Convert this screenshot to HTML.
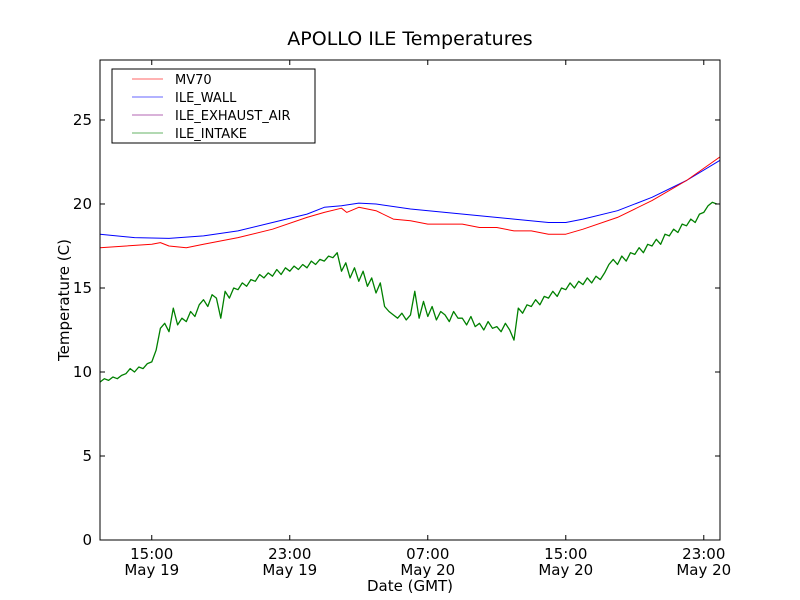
<!DOCTYPE html>
<html><head><meta charset="utf-8">
<style>
body{margin:0;background:#fff;}
svg{display:block;font-family:"DejaVu Sans","Liberation Sans",sans-serif;}
</style></head>
<body>
<svg id="chart" width="800" height="600" viewBox="0 0 800 600">
<rect width="800" height="600" fill="#fff"/>
<text x="410" y="45" font-size="19" text-anchor="middle">APOLLO ILE Temperatures</text>
<g id="plot"></g>
<text x="410" y="591" font-size="15" text-anchor="middle">Date (GMT)</text>
<text x="69" y="300" font-size="15" text-anchor="middle" transform="rotate(-90 69 300)">Temperature (C)</text>
<g>
<rect x="112" y="69" width="203" height="74" fill="#fff" stroke="#000" stroke-width="1"/>
<line x1="132" y1="79" x2="163" y2="79" stroke="#ff0000" stroke-opacity="0.6"/>
<text x="175" y="84" font-size="13">MV70</text>
<line x1="132" y1="97" x2="163" y2="97" stroke="#0000ff" stroke-opacity="0.6"/>
<text x="175" y="102" font-size="13">ILE_WALL</text>
<line x1="132" y1="115" x2="163" y2="115" stroke="#800080" stroke-opacity="0.6"/>
<text x="175" y="120" font-size="13">ILE_EXHAUST_AIR</text>
<line x1="132" y1="133" x2="163" y2="133" stroke="#008000" stroke-opacity="0.6"/>
<text x="175" y="138" font-size="13">ILE_INTAKE</text>
</g>
</svg>
<script>
// hours since 12:00 May 19
const mvT = [0,3,3.5,4,5,6,8,10,12,13,14,14.3,15,16,17,18,19,20,21,22,23,24,25,26,27,28,30,32,34,35.94];
const mvV = [17.4,17.6,17.7,17.5,17.4,17.6,18.0,18.5,19.2,19.5,19.75,19.5,19.8,19.6,19.1,19.0,18.8,18.8,18.8,18.6,18.6,18.4,18.4,18.2,18.2,18.5,19.2,20.2,21.4,22.8];
const wallT = [0,2,4,6,8,10,12,13,14,15,16,18,20,22,24,26,27,28,30,32,34,35.94];
const wallV = [18.2,18.0,17.95,18.1,18.4,18.9,19.4,19.8,19.9,20.05,20.0,19.7,19.5,19.3,19.1,18.9,18.9,19.1,19.6,20.4,21.4,22.6];
// ILE_INTAKE sampled every 0.25 h
const intakeStep = 0.25;
const intakeV = [
9.4,9.6,9.5,9.7, 9.6,9.8,9.9,10.2, 10.0,10.3,10.2,10.5, 10.6,11.3,12.6,12.9,
12.4,13.8,12.8,13.2, 13.0,13.6,13.3,14.0, 14.3,13.9,14.6,14.4, 13.2,14.8,14.4,15.0,
14.9,15.3,15.1,15.5, 15.4,15.8,15.6,15.9, 15.7,16.1,15.8,16.2, 16.0,16.3,16.1,16.4,
16.2,16.6,16.4,16.7, 16.6,16.9,16.8,17.1, 16.0,16.5,15.6,16.2, 15.4,16.0,15.1,15.6,
14.7,15.3,13.9,13.6, 13.4,13.2,13.5,13.1, 13.4,14.8,13.2,14.2, 13.3,13.9,13.1,13.6,
13.4,13.0,13.6,13.2, 13.2,12.8,13.3,12.7, 12.9,12.5,13.0,12.6, 12.7,12.4,12.9,12.5,
11.9,13.8,13.5,14.0, 13.9,14.3,14.0,14.5, 14.4,14.8,14.5,15.0, 14.9,15.3,15.0,15.4,
15.2,15.6,15.3,15.7, 15.5,15.9,16.4,16.7, 16.4,16.9,16.6,17.1, 17.0,17.4,17.1,17.6,
17.5,17.9,17.6,18.2, 18.1,18.5,18.3,18.8, 18.7,19.1,18.9,19.4, 19.5,19.9,20.1,20.0
];
const yTicks = [0,5,10,15,20,25];
const xTickHours = [3,11,19,27,35];
const xTickTime = ["15:00","23:00","07:00","15:00","23:00"];
const xTickDate = ["May 19","May 19","May 20","May 20","May 20"];

const L=100,R=720,T=60,B=540, X0=0,X1=35.94, Y0=0,Y1=28.57;
const xs=h=>L+(h-X0)/(X1-X0)*(R-L);
const ys=v=>B-(v-Y0)/(Y1-Y0)*(B-T);
const NS="http://www.w3.org/2000/svg";
const g=document.getElementById('plot');
function mk(tag,attrs){const e=document.createElementNS(NS,tag);for(const k in attrs)e.setAttribute(k,attrs[k]);g.appendChild(e);return e;}
function line(ts,vs,color,name,w){
  const d=ts.map((t,i)=>(i?'L':'M')+xs(t).toFixed(1)+' '+ys(vs[i]).toFixed(1)).join(' ');
  const p=mk('path',{d:d,fill:'none',stroke:color,'stroke-width':w,'stroke-linejoin':'round'});
  
  
}
const intakeT = intakeV.map((v,i)=>Math.min(i*intakeStep,X1));
line(intakeT,intakeV,'#008000','series-ile-intake',1.3);
line(wallT,wallV,'#0000ff','series-ile-wall',1);
line(mvT,mvV,'#ff0000','series-mv70',1);
yTicks.forEach(v=>{
  const y=ys(v);
  mk('line',{x1:L,y1:y,x2:L+5,y2:y,stroke:'#000'});
  mk('line',{x1:R,y1:y,x2:R-5,y2:y,stroke:'#000'});
  const t=mk('text',{x:L-8,y:y+5,'font-size':15,'text-anchor':'end'});
  t.textContent=v;
  
  
});
xTickHours.forEach((h,i)=>{
  const x=xs(h);
  mk('line',{x1:x,y1:B,x2:x,y2:B-5,stroke:'#000'});
  mk('line',{x1:x,y1:T,x2:x,y2:T+5,stroke:'#000'});
  const t=mk('text',{x:x,y:B+19,'font-size':15,'text-anchor':'middle'});
  t.textContent=xTickTime[i];
  
  
  const t2=mk('text',{x:x,y:B+35,'font-size':15,'text-anchor':'middle'});
  t2.textContent=xTickDate[i];
  
  
});
const fr=mk('rect',{x:L,y:T,width:R-L,height:B-T,fill:'none',stroke:'#000','stroke-width':1});


</script>
</body></html>
